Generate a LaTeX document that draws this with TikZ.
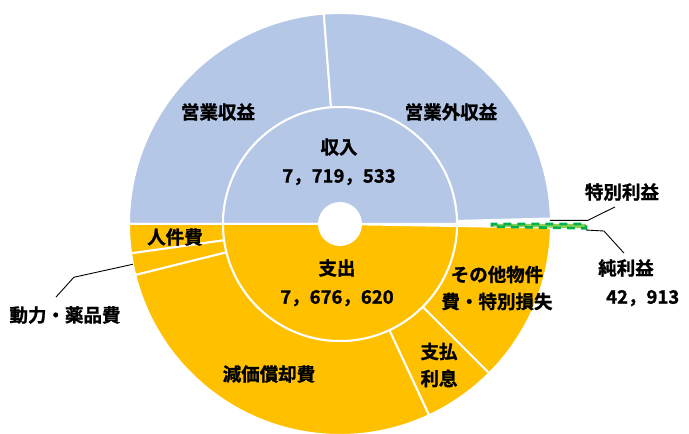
\documentclass[tikz,border=0pt]{standalone}
\usepackage{fontspec}
\setmainfont{Noto Sans CJK JP}[BoldFont={Noto Sans CJK JP Bold}, BoldFeatures={FakeBold=1.2}]
\usetikzlibrary{positioning}

\definecolor{incblue}{HTML}{B4C7E7}
\definecolor{exporange}{HTML}{FFC000}
\definecolor{profitlight}{HTML}{92D050}
\definecolor{profitdark}{HTML}{00B050}

% ring sector: style, inner r, outer r, start angle, end angle
\newcommand{\ringpart}[5]{%
  \path[#1] (#4:#2pt) arc[start angle=#4, end angle=#5, radius=#2pt]
    -- (#5:#3pt) arc[start angle=#5, end angle=#4, radius=#3pt] -- cycle;}

\begin{document}
\begin{tikzpicture}[x=1pt, y=1pt,
			incpart/.style={fill=incblue, draw=white, line width=2pt},
			exppart/.style={fill=exporange, draw=white, line width=2pt},
			profitpart/.style={fill=profitlight, draw=profitdark, line width=2.6pt, dash pattern=on 8pt off 6pt},
			labelnode/.style={font=\fontsize{18.5}{27}\selectfont\bfseries, inner sep=0pt, align=center},
			leader/.style={draw=black, line width=0.9pt},
			]
			\useasboundingbox (-340,-210) rectangle (349,224);

			%Outer ring
			\ringpart{incpart}{117}{211}{94.4}{180}
			\ringpart{incpart}{117}{211}{1.5}{94.4}
			\ringpart{exppart}{117}{211}{180}{188}
			\ringpart{exppart}{117}{211}{188}{194}
			\ringpart{exppart}{117}{211}{194}{295}
			\ringpart{exppart}{117}{211}{295}{315}
			\ringpart{exppart}{117}{211}{315}{359}
			\ringpart{profitpart}{152}{246}{359}{360}

			%Inner ring
			\ringpart{incpart}{21}{117}{0}{180}
			\ringpart{exppart}{21}{117}{180}{359}
			\fill[white] (0,0) circle[radius=21pt];

			%Nodes
			\node[labelnode] (inc)                        at (-1,77)    {収入};
			\node[labelnode] (incval)   [below=13pt of inc] {7，719，533};
			\node[labelnode] (exp)                        at (-3,-44)   {支出};
			\node[labelnode] (expval)   [below=13pt of exp] {7，676，620};

			\node[labelnode] (eigyo)                      at (-122,112) {営業収益};
			\node[labelnode] (eigyogai)                   at (111,112)  {営業外収益};
			\node[labelnode] (jinken)                     at (-165,-13) {人件費};
			\node[labelnode] (douryoku)                   at (-275,-91) {動力・薬品費};
			\node[labelnode] (genka)                      at (-71,-150) {減価償却費};
			\node[labelnode] (shiharai)                   at (99,-141)  {支払\\利息};
			\node[labelnode] (sonota)                     at (157,-64)  {その他物件\\費・特別損失};
			\node[labelnode] (tokubetsu)                  at (282,32)   {特別利益};
			\node[labelnode] (jun)                        at (286,-44)  {純利益};
			\node[labelnode] (junval)   [below right=13pt and -48pt of jun] {42，913};

			%Leaders
			\coordinate (tokuedge) at (1:210pt);
			\coordinate (junedge)  at (-1.4:246pt);
			\coordinate (douedge)  at (191:211pt);
			\path[leader] (tokuedge) -- ++(38,0) -- ([xshift=-7pt,yshift=-6pt]tokubetsu.south);
			\path[leader] (junedge) -- ++(18,-1) -- ([xshift=-2pt,yshift=6pt]jun.north);
			\path[leader] (douedge) -- ++(-59,-13) -- ([xshift=-9pt,yshift=9pt]douryoku.north);
		\end{tikzpicture}
\end{document}
